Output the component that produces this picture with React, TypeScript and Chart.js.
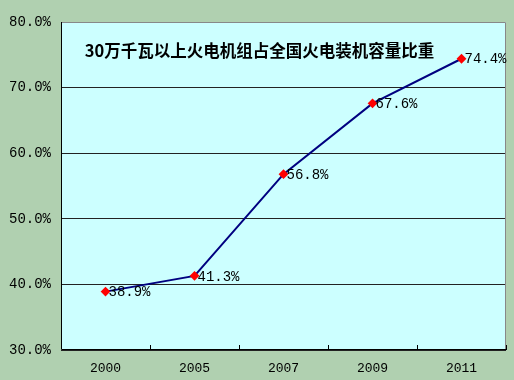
import React, { useEffect, useRef } from "react";
import { Chart, registerables } from "chart.js";

Chart.register(...registerables);

const titleText = "30万千瓦以上火电机组占全国火电装机容量比重";
const years = ["2000", "2005", "2007", "2009", "2011"];
const shares = [38.9, 41.3, 56.8, 67.6, 74.4];
const yMin = 30;
const yMax = 80;
const yStep = 10;

const MONO = "'Liberation Mono', 'DejaVu Sans Mono', monospace";

const framePlugin = {
  id: "frameAndLabels",
  beforeDatasetsDraw(chart: any) {
    const { ctx, chartArea } = chart;
    const { left, right, top, bottom } = chartArea;
    ctx.save();
    // title inside plot
    ctx.fillStyle = "#000";
    ctx.font = "bold 16.5px 'Noto Sans CJK SC', sans-serif";
    ctx.textAlign = "center";
    ctx.textBaseline = "middle";
    ctx.fillText(titleText, (left + right) / 2 - 24, top + 29);
    // frame
    ctx.lineWidth = 1;
    ctx.strokeStyle = "#888888";
    ctx.beginPath();
    ctx.moveTo(left, top + 0.5);
    ctx.lineTo(right - 0.5, top + 0.5);
    ctx.lineTo(right - 0.5, bottom);
    ctx.stroke();
    ctx.strokeStyle = "#000";
    ctx.beginPath();
    ctx.moveTo(left + 0.5, top);
    ctx.lineTo(left + 0.5, bottom - 0.5);
    ctx.lineTo(right, bottom - 0.5);
    ctx.stroke();
    // x tick marks inside, between categories
    const xs = chart.scales.x;
    const n = years.length;
    ctx.beginPath();
    for (let i = 0; i < n; i++) {
      const px = xs.getPixelForTick(i);
      const nx = i < n - 1 ? xs.getPixelForTick(i + 1) : px + (px - xs.getPixelForTick(i - 1));
      const mx = Math.round((px + nx) / 2) + 0.5;
      ctx.moveTo(mx, bottom);
      ctx.lineTo(mx, bottom - 5);
    }
    ctx.stroke();
    ctx.restore();
  },
  afterDatasetsDraw(chart: any) {
    const { ctx } = chart;
    const meta = chart.getDatasetMeta(0);
    ctx.save();
    ctx.fillStyle = "#000";
    ctx.font = `14px ${MONO}`;
    ctx.textAlign = "left";
    ctx.textBaseline = "middle";
    meta.data.forEach((pt: any, i: number) => {
      ctx.fillText(shares[i].toFixed(1) + "%", pt.x + 3, pt.y + 1);
    });
    ctx.restore();
  },
};

export default function App() {
  const ref = useRef<HTMLCanvasElement>(null);
  useEffect(() => {
    const chart = new Chart(ref.current!, {
      type: "line",
      data: {
        labels: years,
        datasets: [
          {
            data: shares,
            borderColor: "#000080",
            borderWidth: 2,
            pointStyle: "rectRot",
            pointRadius: 3.5,
            pointBackgroundColor: "#ff0000",
            pointBorderColor: "#ff0000",
            tension: 0,
          },
        ],
      },
      options: {
        animation: false,
        responsive: false,
        maintainAspectRatio: false,
        layout: { padding: { top: 22, right: 8, left: 0, bottom: 0 } },
        plugins: { legend: { display: false }, title: { display: false }, tooltip: { enabled: false } },
        scales: {
          x: {
            offset: true,
            grid: { display: false },
            border: { display: false },
            ticks: { color: "#000", font: { family: MONO, size: 13 }, padding: 3 },
            afterFit(s: any) {
              s.height = 30;
            },
          },
          y: {
            min: yMin,
            max: yMax,
            ticks: {
              stepSize: yStep,
              color: "#000",
              font: { family: MONO, size: 14 },
              padding: 10,
              callback: (v: any) => Number(v).toFixed(1) + "%",
            },
            grid: {
              drawTicks: false,
              color: (c: any) => (c.tick && c.tick.value === yMax ? "rgba(0,0,0,0)" : "#222222"),
              lineWidth: 1,
            },
            border: { display: false },
            afterFit(s: any) {
              s.width = 61;
            },
          },
        },
      },
      plugins: [
        {
          id: "plotBg",
          beforeDraw(chart: any) {
            const { ctx, chartArea } = chart;
            ctx.save();
            ctx.fillStyle = "#ccffff";
            ctx.fillRect(chartArea.left, chartArea.top, chartArea.right - chartArea.left, chartArea.bottom - chartArea.top);
            ctx.restore();
          },
        },
        framePlugin,
      ],
    });
    return () => chart.destroy();
  }, []);
  return (
    <div style={{ position: "fixed", left: 0, top: 0, width: 514, height: 380, background: "#b0d0b0" }}>
      <canvas ref={ref} width={514} height={380} style={{ width: 514, height: 380, display: "block" }} />
    </div>
  );
}
